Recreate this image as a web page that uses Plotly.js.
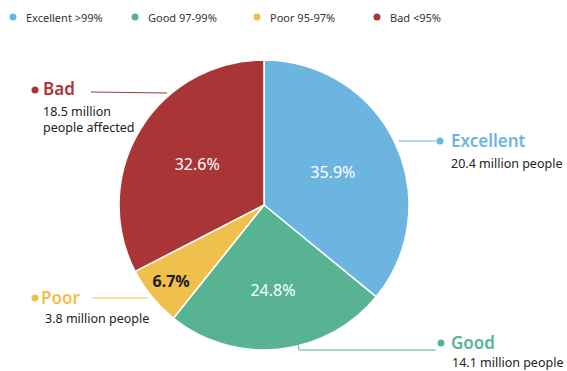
<!DOCTYPE html>
<html><head><meta charset="utf-8">
<script src="https://cdn.plot.ly/plotly-3.0.1.min.js"></script>
<style>html,body{margin:0;padding:0;background:#fff}#chart{width:567px;height:371px}</style>
</head><body><div id="chart"></div>
<script>
const categories = ["Excellent", "Good", "Poor", "Bad"];
const legendLabels = ["Excellent >99%", "Good 97-99%", "Poor 95-97%", "Bad <95%"];
const millions = [20.4, 14.1, 3.8, 18.5];
const subLabels = ["20.4 million people", "14.1 million people", "3.8 million people", "18.5 million<br>people affected"];
const colors = ["#6db5e1", "#58b392", "#f0c04c", "#a93536"];

const W = 567, H = 371;
const px = x => x / W, py = y => 1 - y / H;
const FONT = "Noto Sans, sans-serif";

const pie = {
  type: "pie",
  values: millions,
  labels: categories,
  sort: false,
  direction: "clockwise",
  rotation: 0,
  marker: {colors: colors, line: {color: "#ffffff", width: 1.5}},
  texttemplate: ["%{percent:.1%}", "%{percent:.1%}", "<b>%{percent:.1%}</b>", "%{percent:.1%}"],
  textposition: "inside",
  insidetextorientation: "horizontal",
  insidetextfont: {family: FONT, size: 16, color: ["#ffffff", "#ffffff", "#1a1a1a", "#ffffff"]},
  hoverinfo: "none",
  domain: {x: [px(119), px(409)], y: [py(350), py(60)]},
  showlegend: false
};

const annotations = [];
const shapes = [];
const dot = (cx, cy, r, color) => shapes.push({type: "circle", xref: "paper", yref: "paper",
  x0: px(cx - r), x1: px(cx + r), y0: py(cy + r), y1: py(cy - r), fillcolor: color, line: {width: 0}});

// top legend
const legX = [13, 135, 257, 377];
legendLabels.forEach((t, i) => {
  dot(legX[i], 17, 3.5, colors[i]);
  annotations.push({xref: "paper", yref: "paper", x: px(legX[i] + 11), y: py(17), xanchor: "left", yanchor: "middle",
    text: t, showarrow: false, font: {family: FONT, size: 11, color: "#333333"}});
});
// callouts: [dotX, dotY, titleX, subX, subY]
const callPos = [
  [440, 141, 449, 449, 163],
  [441, 343, 449, 450, 362],
  [35, 298, 39, 43, 318],
  [35, 90, 41, 41, 120]
];
categories.forEach((c, i) => {
  const p = callPos[i];
  dot(p[0], p[1], 3.5, colors[i]);
  annotations.push({xref: "paper", yref: "paper", x: px(p[2]), y: py(p[1] - 1), xanchor: "left", yanchor: "middle",
    text: c, showarrow: false, font: {family: FONT, size: 17, weight: 600, color: colors[i]}});
  annotations.push({xref: "paper", yref: "paper", x: px(p[3]), y: py(p[4]), xanchor: "left", yanchor: "middle", align: "left",
    text: subLabels[i], showarrow: false, font: {family: FONT, size: 12.5, color: "#222222"}});
});

const lines = [
  [398, 141, 436, 141, 0],
  [299, 350, 436, 350, 1],
  [298, 344, 299, 350, 1],
  [92, 298, 148, 298, 2],
  [91, 92, 167, 93, 3]
];
lines.forEach(l => shapes.push({type: "line", xref: "paper", yref: "paper",
  x0: px(l[0]), y0: py(l[1]), x1: px(l[2]), y1: py(l[3]), line: {color: colors[l[4]], width: 1}}));

const layout = {
  width: W, height: H,
  margin: {l: 0, r: 0, t: 0, b: 0},
  paper_bgcolor: "#ffffff",
  showlegend: false,
  annotations: annotations,
  shapes: shapes,
  font: {family: FONT}
};
Plotly.newPlot("chart", [pie], layout, {displayModeBar: false, staticPlot: true});
</script></body></html>
